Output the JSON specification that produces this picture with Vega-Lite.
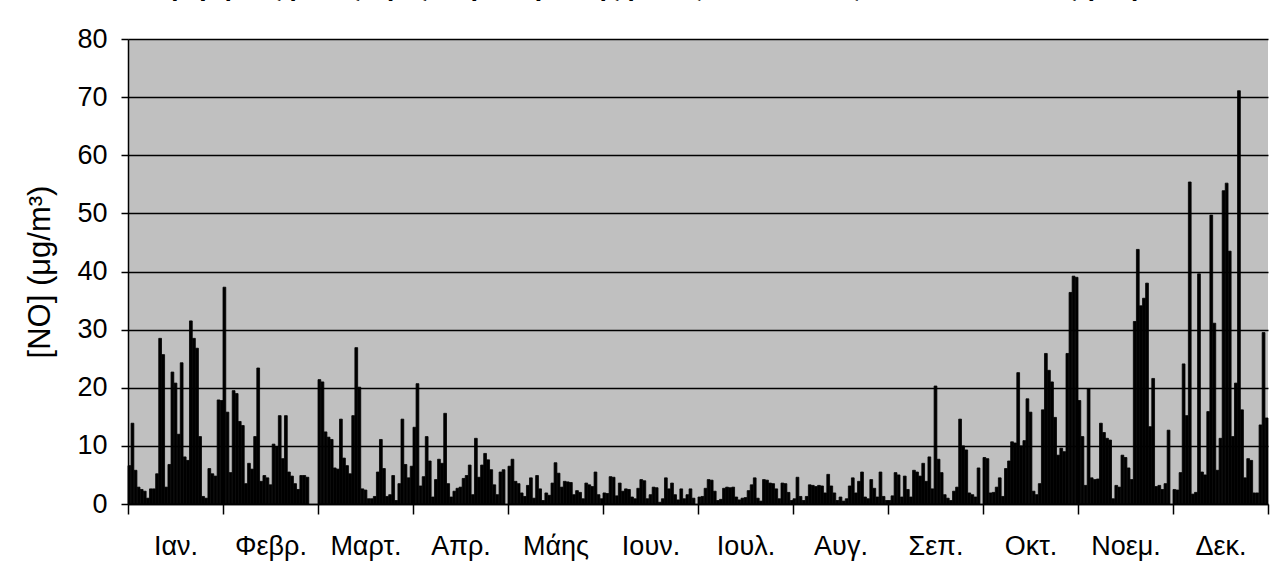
{
"$schema": "https://vega.github.io/schema/vega-lite/v6.json",
"width": 1140,
"height": 465,
"autosize": "none",
"padding": {"left": 128, "top": 39, "right": 10, "bottom": 72},
"background": "white",
"title": {"text": "Ημερήσιες μέσες τιμές συγκέντρωσης μονοξειδίου του αζώτου κατά το έτος (ΝΟ)", "font": "Liberation Sans", "fontSize": 26, "fontWeight": "bold", "color": "black", "anchor": "middle", "frame": "bounds", "baseline": "alphabetic", "offset": 3},
"data": {"values": [
{"m":1,"d":1,"v":6.6},{"m":1,"d":2,"v":13.9},{"m":1,"d":3,"v":5.8},{"m":1,"d":4,"v":2.9},{"m":1,"d":5,"v":2.5},{"m":1,"d":6,"v":2.2},{"m":1,"d":7,"v":1.0},{"m":1,"d":8,"v":2.6},{"m":1,"d":9,"v":2.6},{"m":1,"d":10,"v":5.2},{"m":1,"d":11,"v":28.5},{"m":1,"d":12,"v":25.7},{"m":1,"d":13,"v":2.9},{"m":1,"d":14,"v":6.8},{"m":1,"d":15,"v":22.7},{"m":1,"d":16,"v":20.8},{"m":1,"d":17,"v":12.0},{"m":1,"d":18,"v":24.3},{"m":1,"d":19,"v":8.1},{"m":1,"d":20,"v":7.5},{"m":1,"d":21,"v":31.5},{"m":1,"d":22,"v":28.5},{"m":1,"d":23,"v":26.8},{"m":1,"d":24,"v":11.6},{"m":1,"d":25,"v":1.3},{"m":1,"d":26,"v":1.0},{"m":1,"d":27,"v":6.1},{"m":1,"d":28,"v":5.2},{"m":1,"d":29,"v":4.8},{"m":1,"d":30,"v":17.9},{"m":1,"d":31,"v":17.8},
{"m":2,"d":1,"v":37.3},{"m":2,"d":2,"v":15.8},{"m":2,"d":3,"v":5.4},{"m":2,"d":4,"v":19.5},{"m":2,"d":5,"v":19.0},{"m":2,"d":6,"v":14.2},{"m":2,"d":7,"v":13.5},{"m":2,"d":8,"v":3.5},{"m":2,"d":9,"v":7.0},{"m":2,"d":10,"v":6.0},{"m":2,"d":11,"v":11.6},{"m":2,"d":12,"v":23.4},{"m":2,"d":13,"v":3.9},{"m":2,"d":14,"v":4.9},{"m":2,"d":15,"v":4.5},{"m":2,"d":16,"v":3.3},{"m":2,"d":17,"v":10.3},{"m":2,"d":18,"v":9.8},{"m":2,"d":19,"v":15.2},{"m":2,"d":20,"v":7.8},{"m":2,"d":21,"v":15.2},{"m":2,"d":22,"v":5.5},{"m":2,"d":23,"v":4.8},{"m":2,"d":24,"v":3.5},{"m":2,"d":25,"v":2.5},{"m":2,"d":26,"v":4.9},{"m":2,"d":27,"v":4.9},{"m":2,"d":28,"v":4.6},
{"m":3,"d":1,"v":21.4},{"m":3,"d":2,"v":21.0},{"m":3,"d":3,"v":12.4},{"m":3,"d":4,"v":11.5},{"m":3,"d":5,"v":11.1},{"m":3,"d":6,"v":6.2},{"m":3,"d":7,"v":6.0},{"m":3,"d":8,"v":14.6},{"m":3,"d":9,"v":7.9},{"m":3,"d":10,"v":6.6},{"m":3,"d":11,"v":5.2},{"m":3,"d":12,"v":15.2},{"m":3,"d":13,"v":26.9},{"m":3,"d":14,"v":20.1},{"m":3,"d":15,"v":2.6},{"m":3,"d":16,"v":2.4},{"m":3,"d":17,"v":0.9},{"m":3,"d":18,"v":0.9},{"m":3,"d":19,"v":1.3},{"m":3,"d":20,"v":5.5},{"m":3,"d":21,"v":11.1},{"m":3,"d":22,"v":6.1},{"m":3,"d":23,"v":1.3},{"m":3,"d":24,"v":1.6},{"m":3,"d":25,"v":4.9},{"m":3,"d":26,"v":0.6},{"m":3,"d":27,"v":3.5},{"m":3,"d":28,"v":14.6},{"m":3,"d":29,"v":6.8},{"m":3,"d":30,"v":4.5},{"m":3,"d":31,"v":6.5},
{"m":4,"d":1,"v":13.2},{"m":4,"d":2,"v":20.7},{"m":4,"d":3,"v":3.1},{"m":4,"d":4,"v":4.7},{"m":4,"d":5,"v":11.6},{"m":4,"d":6,"v":7.4},{"m":4,"d":7,"v":1.2},{"m":4,"d":8,"v":4.2},{"m":4,"d":9,"v":7.7},{"m":4,"d":10,"v":7.0},{"m":4,"d":11,"v":15.6},{"m":4,"d":12,"v":3.5},{"m":4,"d":13,"v":1.2},{"m":4,"d":14,"v":2.2},{"m":4,"d":15,"v":2.7},{"m":4,"d":16,"v":2.9},{"m":4,"d":17,"v":4.4},{"m":4,"d":18,"v":4.9},{"m":4,"d":19,"v":6.7},{"m":4,"d":20,"v":1.6},{"m":4,"d":21,"v":11.3},{"m":4,"d":22,"v":4.6},{"m":4,"d":23,"v":6.7},{"m":4,"d":24,"v":8.7},{"m":4,"d":25,"v":7.6},{"m":4,"d":26,"v":5.9},{"m":4,"d":27,"v":3.3},{"m":4,"d":28,"v":1.6},{"m":4,"d":29,"v":5.5},{"m":4,"d":30,"v":5.9},
{"m":5,"d":1,"v":6.5},{"m":5,"d":2,"v":7.7},{"m":5,"d":3,"v":3.9},{"m":5,"d":4,"v":3.5},{"m":5,"d":5,"v":1.9},{"m":5,"d":6,"v":1.3},{"m":5,"d":7,"v":3.2},{"m":5,"d":8,"v":4.5},{"m":5,"d":9,"v":1.0},{"m":5,"d":10,"v":4.9},{"m":5,"d":11,"v":2.6},{"m":5,"d":12,"v":0.6},{"m":5,"d":13,"v":1.9},{"m":5,"d":14,"v":1.5},{"m":5,"d":15,"v":3.6},{"m":5,"d":16,"v":7.1},{"m":5,"d":17,"v":5.3},{"m":5,"d":18,"v":2.9},{"m":5,"d":19,"v":3.9},{"m":5,"d":20,"v":3.8},{"m":5,"d":21,"v":3.7},{"m":5,"d":22,"v":1.6},{"m":5,"d":23,"v":2.3},{"m":5,"d":24,"v":2.0},{"m":5,"d":25,"v":0.9},{"m":5,"d":26,"v":3.6},{"m":5,"d":27,"v":3.3},{"m":5,"d":28,"v":3.0},{"m":5,"d":29,"v":5.5},{"m":5,"d":30,"v":1.6},{"m":5,"d":31,"v":0.9},
{"m":6,"d":1,"v":1.9},{"m":6,"d":2,"v":1.8},{"m":6,"d":3,"v":4.7},{"m":6,"d":4,"v":4.6},{"m":6,"d":5,"v":1.4},{"m":6,"d":6,"v":3.6},{"m":6,"d":7,"v":2.2},{"m":6,"d":8,"v":2.6},{"m":6,"d":9,"v":2.5},{"m":6,"d":10,"v":1.2},{"m":6,"d":11,"v":0.9},{"m":6,"d":12,"v":2.7},{"m":6,"d":13,"v":4.2},{"m":6,"d":14,"v":4.0},{"m":6,"d":15,"v":0.9},{"m":6,"d":16,"v":1.6},{"m":6,"d":17,"v":2.9},{"m":6,"d":18,"v":2.8},{"m":6,"d":19,"v":0.3},{"m":6,"d":20,"v":0.9},{"m":6,"d":21,"v":4.5},{"m":6,"d":22,"v":2.6},{"m":6,"d":23,"v":3.6},{"m":6,"d":24,"v":1.6},{"m":6,"d":25,"v":0.7},{"m":6,"d":26,"v":2.6},{"m":6,"d":27,"v":0.9},{"m":6,"d":28,"v":1.6},{"m":6,"d":29,"v":2.6},{"m":6,"d":30,"v":1.0},
{"m":7,"d":1,"v":1.2},{"m":7,"d":2,"v":1.3},{"m":7,"d":3,"v":2.7},{"m":7,"d":4,"v":4.2},{"m":7,"d":5,"v":4.1},{"m":7,"d":6,"v":2.2},{"m":7,"d":7,"v":0.6},{"m":7,"d":8,"v":0.8},{"m":7,"d":9,"v":2.7},{"m":7,"d":10,"v":2.9},{"m":7,"d":11,"v":2.8},{"m":7,"d":12,"v":2.9},{"m":7,"d":13,"v":1.2},{"m":7,"d":14,"v":0.7},{"m":7,"d":15,"v":1.0},{"m":7,"d":16,"v":1.1},{"m":7,"d":17,"v":2.3},{"m":7,"d":18,"v":3.3},{"m":7,"d":19,"v":4.5},{"m":7,"d":20,"v":1.0},{"m":7,"d":21,"v":0.5},{"m":7,"d":22,"v":4.2},{"m":7,"d":23,"v":4.1},{"m":7,"d":24,"v":3.6},{"m":7,"d":25,"v":3.5},{"m":7,"d":26,"v":2.6},{"m":7,"d":27,"v":0.9},{"m":7,"d":28,"v":3.6},{"m":7,"d":29,"v":3.5},{"m":7,"d":30,"v":2.0},{"m":7,"d":31,"v":0.6},
{"m":8,"d":1,"v":0.9},{"m":8,"d":2,"v":4.6},{"m":8,"d":3,"v":1.3},{"m":8,"d":4,"v":0.6},{"m":8,"d":5,"v":1.3},{"m":8,"d":6,"v":3.3},{"m":8,"d":7,"v":3.2},{"m":8,"d":8,"v":3.0},{"m":8,"d":9,"v":3.2},{"m":8,"d":10,"v":3.1},{"m":8,"d":11,"v":1.9},{"m":8,"d":12,"v":5.1},{"m":8,"d":13,"v":3.1},{"m":8,"d":14,"v":1.9},{"m":8,"d":15,"v":0.6},{"m":8,"d":16,"v":1.2},{"m":8,"d":17,"v":0.5},{"m":8,"d":18,"v":0.9},{"m":8,"d":19,"v":3.1},{"m":8,"d":20,"v":4.5},{"m":8,"d":21,"v":1.9},{"m":8,"d":22,"v":3.9},{"m":8,"d":23,"v":5.5},{"m":8,"d":24,"v":1.2},{"m":8,"d":25,"v":0.9},{"m":8,"d":26,"v":4.2},{"m":8,"d":27,"v":2.7},{"m":8,"d":28,"v":1.2},{"m":8,"d":29,"v":5.5},{"m":8,"d":30,"v":1.3},{"m":8,"d":31,"v":0.6},
{"m":9,"d":1,"v":0.6},{"m":9,"d":2,"v":1.4},{"m":9,"d":3,"v":5.4},{"m":9,"d":4,"v":5.0},{"m":9,"d":5,"v":1.2},{"m":9,"d":6,"v":4.8},{"m":9,"d":7,"v":2.5},{"m":9,"d":8,"v":1.2},{"m":9,"d":9,"v":5.8},{"m":9,"d":10,"v":5.5},{"m":9,"d":11,"v":4.8},{"m":9,"d":12,"v":7.0},{"m":9,"d":13,"v":3.9},{"m":9,"d":14,"v":8.1},{"m":9,"d":15,"v":2.6},{"m":9,"d":16,"v":20.3},{"m":9,"d":17,"v":7.7},{"m":9,"d":18,"v":5.4},{"m":9,"d":19,"v":1.6},{"m":9,"d":20,"v":1.0},{"m":9,"d":21,"v":0.6},{"m":9,"d":22,"v":2.2},{"m":9,"d":23,"v":2.9},{"m":9,"d":24,"v":14.6},{"m":9,"d":25,"v":10.0},{"m":9,"d":26,"v":9.3},{"m":9,"d":27,"v":1.9},{"m":9,"d":28,"v":1.6},{"m":9,"d":29,"v":1.2},{"m":9,"d":30,"v":6.2},
{"m":10,"d":1,"v":8.0},{"m":10,"d":2,"v":7.8},{"m":10,"d":3,"v":1.9},{"m":10,"d":4,"v":2.0},{"m":10,"d":5,"v":2.9},{"m":10,"d":6,"v":4.5},{"m":10,"d":7,"v":1.3},{"m":10,"d":8,"v":6.1},{"m":10,"d":9,"v":7.4},{"m":10,"d":10,"v":10.7},{"m":10,"d":11,"v":10.5},{"m":10,"d":12,"v":22.6},{"m":10,"d":13,"v":10.0},{"m":10,"d":14,"v":10.9},{"m":10,"d":15,"v":18.1},{"m":10,"d":16,"v":15.8},{"m":10,"d":17,"v":2.2},{"m":10,"d":18,"v":1.6},{"m":10,"d":19,"v":3.5},{"m":10,"d":20,"v":16.2},{"m":10,"d":21,"v":25.9},{"m":10,"d":22,"v":23.0},{"m":10,"d":23,"v":21.0},{"m":10,"d":24,"v":14.9},{"m":10,"d":25,"v":8.4},{"m":10,"d":26,"v":9.6},{"m":10,"d":27,"v":9.0},{"m":10,"d":28,"v":25.9},{"m":10,"d":29,"v":36.4},{"m":10,"d":30,"v":39.2},{"m":10,"d":31,"v":39.0},
{"m":11,"d":1,"v":17.8},{"m":11,"d":2,"v":11.6},{"m":11,"d":3,"v":3.2},{"m":11,"d":4,"v":19.8},{"m":11,"d":5,"v":4.5},{"m":11,"d":6,"v":4.2},{"m":11,"d":7,"v":4.3},{"m":11,"d":8,"v":13.9},{"m":11,"d":9,"v":12.3},{"m":11,"d":10,"v":11.3},{"m":11,"d":11,"v":11.0},{"m":11,"d":12,"v":0.9},{"m":11,"d":13,"v":3.2},{"m":11,"d":14,"v":2.9},{"m":11,"d":15,"v":8.4},{"m":11,"d":16,"v":8.0},{"m":11,"d":17,"v":6.2},{"m":11,"d":18,"v":4.2},{"m":11,"d":19,"v":31.4},{"m":11,"d":20,"v":43.8},{"m":11,"d":21,"v":34.1},{"m":11,"d":22,"v":35.4},{"m":11,"d":23,"v":38.0},{"m":11,"d":24,"v":13.3},{"m":11,"d":25,"v":21.6},{"m":11,"d":26,"v":3.0},{"m":11,"d":27,"v":3.2},{"m":11,"d":28,"v":2.5},{"m":11,"d":29,"v":3.5},{"m":11,"d":30,"v":12.7},
{"m":12,"d":1,"v":2.5},{"m":12,"d":2,"v":2.4},{"m":12,"d":3,"v":5.4},{"m":12,"d":4,"v":24.1},{"m":12,"d":5,"v":15.2},{"m":12,"d":6,"v":55.4},{"m":12,"d":7,"v":1.7},{"m":12,"d":8,"v":2.0},{"m":12,"d":9,"v":39.6},{"m":12,"d":10,"v":5.5},{"m":12,"d":11,"v":5.0},{"m":12,"d":12,"v":15.9},{"m":12,"d":13,"v":49.7},{"m":12,"d":14,"v":31.1},{"m":12,"d":15,"v":5.8},{"m":12,"d":16,"v":11.3},{"m":12,"d":17,"v":53.9},{"m":12,"d":18,"v":55.2},{"m":12,"d":19,"v":43.5},{"m":12,"d":20,"v":11.6},{"m":12,"d":21,"v":20.8},{"m":12,"d":22,"v":71.1},{"m":12,"d":23,"v":16.2},{"m":12,"d":24,"v":4.5},{"m":12,"d":25,"v":7.8},{"m":12,"d":26,"v":7.5},{"m":12,"d":27,"v":1.9},{"m":12,"d":28,"v":1.9},{"m":12,"d":29,"v":13.6},{"m":12,"d":30,"v":29.5},{"m":12,"d":31,"v":14.8}
]},
"mark": {"type": "bar", "color": "black", "stroke": "black", "strokeWidth": 0.8},
"encoding": {
  "x": {"field": "m", "type": "ordinal", "scale": {"paddingInner": 0, "paddingOuter": 0},
        "axis": {"title": null, "tickBand": "extent", "labelAngle": 0,
                 "labelExpr": "['Ιαν.','Φεβρ.','Μαρτ.','Απρ.','Μάης','Ιουν.','Ιουλ.','Αυγ.','Σεπ.','Οκτ.','Νοεμ.','Δεκ.'][datum.value-1]",
                 "tickSize": 10, "tickColor": "black", "tickWidth": 1.5, "domainColor": "black", "domainWidth": 1.5,
                 "labelFont": "Liberation Sans", "labelFontSize": 27, "labelColor": "black", "labelPadding": 19, "grid": false}},
  "xOffset": {"field": "d", "type": "ordinal",
              "scale": {"domain": [1,2,3,4,5,6,7,8,9,10,11,12,13,14,15,16,17,18,19,20,21,22,23,24,25,26,27,28,29,30,31], "paddingInner": 0.1, "paddingOuter": 0}},
  "y": {"field": "v", "type": "quantitative", "scale": {"domain": [0, 80], "nice": false},
        "axis": {"title": "[NO] (μg/m³)", "values": [0,10,20,30,40,50,60,70,80], "grid": true, "gridColor": "black", "gridWidth": 1.5, "gridOpacity": 1,
                 "tickSize": 7, "tickColor": "black", "tickWidth": 1.5, "domainColor": "black", "domainWidth": 1.5,
                 "labelFont": "Liberation Sans", "labelFontSize": 27, "labelColor": "black", "labelPadding": 14,
                 "titleFont": "Liberation Sans", "titleFontSize": 31, "titleFontWeight": "normal", "titleColor": "black", "titlePadding": 20}}
},
"config": {"view": {"fill": "#C0C0C0", "stroke": null}}
}
